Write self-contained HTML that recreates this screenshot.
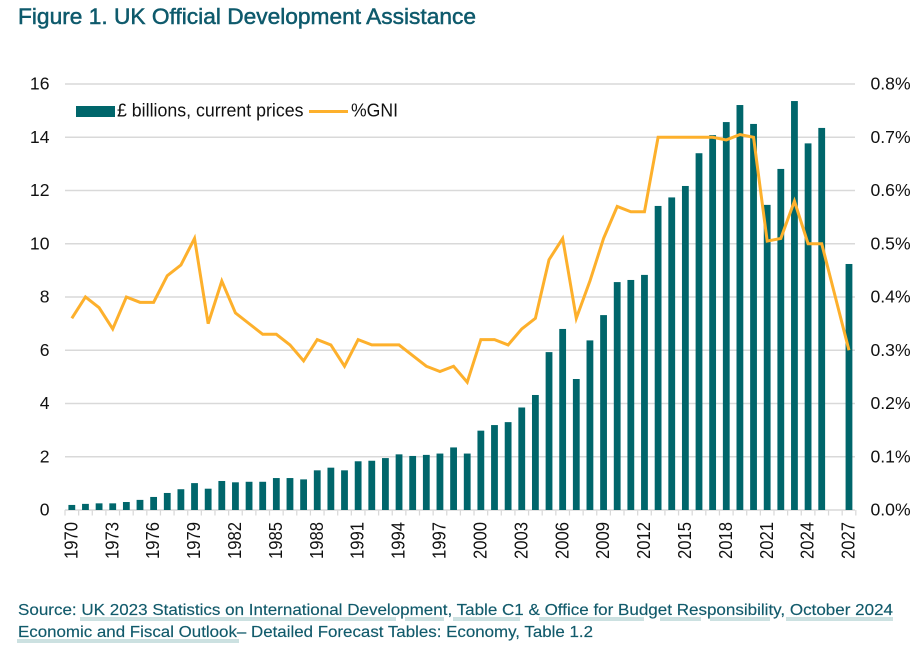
<!DOCTYPE html>
<html lang="en">
<head>
<meta charset="utf-8">
<title>Figure 1. UK Official Development Assistance</title>
<style>
html,body{margin:0;padding:0;background:#fff;width:918px;height:648px;overflow:hidden}
svg{display:block;font-family:"Liberation Sans",sans-serif}
.ax{font-size:17.6px;fill:#111}
.yr{font-size:18.4px;fill:#111}
.leg{font-size:18px;fill:#111}
.src{font-size:16px;fill:#115a6b;stroke:#115a6b;stroke-width:0.15}
</style>
</head>
<body>
<svg id="chart" xmlns="http://www.w3.org/2000/svg" width="918" height="648" viewBox="0 0 918 648">
  <rect x="0" y="0" width="918" height="648" fill="#ffffff"/>
  <text x="18" y="24" font-size="22.5" fill="#0e5a6c" stroke="#0e5a6c" stroke-width="0.5" textLength="458" lengthAdjust="spacingAndGlyphs">Figure 1. UK Official Development Assistance</text>
  <g id="grid"></g>
  <g id="xticks"></g>
  <g id="bars"></g>
  <path id="gni" fill="none" stroke="#fdb02c" stroke-width="3" stroke-linejoin="miter"/>
  <g id="yleft"></g>
  <g id="yright"></g>
  <g id="xlabels"></g>
  <g>
    <rect x="76" y="106" width="39" height="11" fill="#00666b"/>
    <text class="leg" x="117" y="116.5" textLength="186.5" lengthAdjust="spacingAndGlyphs">£ billions, current prices</text>
    <line x1="309" y1="111.5" x2="348" y2="111.5" stroke="#fdb02c" stroke-width="3"/>
    <text class="leg" x="351" y="116.5" textLength="47" lengthAdjust="spacingAndGlyphs">%GNI</text>
  </g>
  <g fill="#cce1e1">
    <rect x="80" y="617" width="316" height="4"/>
    <rect x="405" y="617" width="39" height="4"/>
    <rect x="453" y="617" width="67" height="4"/>
    <rect x="539" y="617" width="105" height="4"/>
    <rect x="660" y="617" width="41" height="4"/>
    <rect x="710" y="617" width="60" height="4"/>
    <rect x="786" y="617" width="107" height="4"/>
    <rect x="17" y="639" width="222" height="4"/>
  </g>
  <text class="src" x="18" y="615" textLength="875" lengthAdjust="spacingAndGlyphs">Source: UK 2023 Statistics on International Development, Table C1 &amp; Office for Budget Responsibility, October 2024</text>
  <text class="src" x="18" y="637" textLength="575" lengthAdjust="spacingAndGlyphs">Economic and Fiscal Outlook– Detailed Forecast Tables: Economy, Table 1.2</text>
</svg>
<script>
var years = [1970,1971,1972,1973,1974,1975,1976,1977,1978,1979,1980,1981,1982,1983,1984,1985,1986,1987,1988,1989,1990,1991,1992,1993,1994,1995,1996,1997,1998,1999,2000,2001,2002,2003,2004,2005,2006,2007,2008,2009,2010,2011,2012,2013,2014,2015,2016,2017,2018,2019,2020,2021,2022,2023,2024,2025,2026,2027];
var gbpBillions = [0.19,0.23,0.25,0.25,0.30,0.38,0.49,0.64,0.78,1.01,0.80,1.09,1.04,1.06,1.06,1.20,1.20,1.15,1.49,1.59,1.49,1.83,1.85,1.95,2.09,2.03,2.07,2.12,2.35,2.12,2.98,3.19,3.30,3.85,4.32,5.93,6.80,4.92,6.37,7.32,8.56,8.64,8.83,11.42,11.74,12.17,13.40,14.08,14.57,15.21,14.50,11.46,12.81,15.36,13.77,14.35,null,9.24];
var gniPercent = [0.36,0.40,0.38,0.34,0.40,0.39,0.39,0.44,0.46,0.51,0.35,0.43,0.37,0.35,0.33,0.33,0.31,0.28,0.32,0.31,0.27,0.32,0.31,0.31,0.31,0.29,0.27,0.26,0.27,0.24,0.32,0.32,0.31,0.34,0.36,0.47,0.51,0.36,0.43,0.51,0.57,0.56,0.56,0.70,0.70,0.70,0.70,0.70,0.695,0.705,0.70,0.505,0.51,0.58,0.50,0.50,null,0.30];
var leftTicks = [0,2,4,6,8,10,12,14,16];
var rightTicks = ["0.0%","0.1%","0.2%","0.3%","0.4%","0.5%","0.6%","0.7%","0.8%"];
var labelEvery = 3;

var NS = "http://www.w3.org/2000/svg";
var plotLeft = 65, plotRight = 855.8, plotBottom = 510, plotTop = 84;
var leftMax = 16, rightMax = 0.8;
var slot = (plotRight - plotLeft) / years.length;
function xCenter(i){ return plotLeft + slot * (i + 0.5); }
function xEdge(i){ return plotLeft + slot * i; }
function yLeft(v){ return plotBottom - (v / leftMax) * (plotBottom - plotTop); }
function yRight(v){ return plotBottom - (v / rightMax) * (plotBottom - plotTop); }
function make(tag, parentId, attrs, text){
  var el = document.createElementNS(NS, tag);
  for (var k in attrs) el.setAttribute(k, attrs[k]);
  if (text !== undefined) el.textContent = text;
  document.getElementById(parentId).appendChild(el);
  return el;
}
leftTicks.forEach(function(t, i){
  var y = yLeft(t);
  var g = make("line", "grid", {x1: plotLeft, x2: plotRight - 0.8, y1: y, y2: y, stroke: "#d9d9d9", "stroke-width": 1.5});
  
  
  var l = make("text", "yleft", {x: 49.5, y: y + 5.5, "text-anchor": "end", "class": "ax"}, String(t));
  
  
  var r = make("text", "yright", {x: 870.5, y: y + 5.5, "class": "ax"}, rightTicks[i]);
  
  
});
for (var e = 0; e <= years.length; e++){
  var tk = make("line", "xticks", {x1: xEdge(e), x2: xEdge(e), y1: plotBottom, y2: plotBottom + 5.5, stroke: "#d9d9d9", "stroke-width": 1.25});
  
  
}
var barWidth = 6.8;
gbpBillions.forEach(function(v, i){
  if (v === null) return;
  var b = make("rect", "bars", {x: xCenter(i) - barWidth / 2, y: yLeft(v), width: barWidth, height: plotBottom - yLeft(v), fill: "#00666b"});
  
  
});
var d = "";
gniPercent.forEach(function(v, i){
  if (v === null) return;
  d += (d ? "L" : "M") + xCenter(i).toFixed(2) + " " + yRight(v).toFixed(2);
});
document.getElementById("gni").setAttribute("d", d);
years.forEach(function(yr, i){
  if (i % labelEvery !== 0) return;
  var x = xCenter(i) + 5.6;
  var t = make("text", "xlabels", {x: 0, y: 0, "text-anchor": "end", "class": "yr", textLength: 37, lengthAdjust: "spacingAndGlyphs", transform: "translate(" + x.toFixed(2) + ",522) rotate(-90)"}, String(yr));
  
  
});
</script>
</body>
</html>
